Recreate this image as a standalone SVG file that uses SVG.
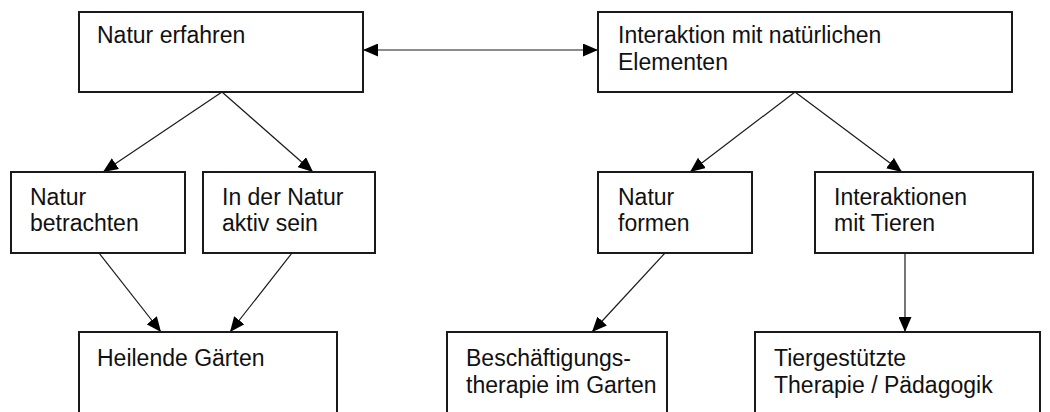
<svg xmlns="http://www.w3.org/2000/svg" width="1050" height="412" viewBox="0 0 1050 412">
  <style>
    .box { fill: #ffffff; stroke: #1a1a1a; stroke-width: 2; }
    .lbl { font-family: "Liberation Sans", Arial, sans-serif; font-size: 23px; fill: #111111; }
    .edge { fill: none; stroke: #1a1a1a; stroke-width: 1.2; }
  </style>
  <defs>
    <marker id="head" viewBox="0 0 15 13" refX="15" refY="6.5" markerWidth="15" markerHeight="13" markerUnits="userSpaceOnUse" orient="auto-start-reverse">
      <path d="M0,0 L15,6.5 L0,13 Z" fill="#000000"/>
    </marker>
  </defs>
  <rect width="1050" height="412" fill="#ffffff"/>

  <g id="connectors">
    <line class="edge" x1="363" y1="50" x2="598" y2="50" marker-start="url(#head)" marker-end="url(#head)"/>
    <line class="edge" x1="222" y1="92" x2="103" y2="172" marker-end="url(#head)"/>
    <line class="edge" x1="222" y1="92" x2="313" y2="172" marker-end="url(#head)"/>
    <line class="edge" x1="795" y1="92" x2="690" y2="172" marker-end="url(#head)"/>
    <line class="edge" x1="795" y1="92" x2="902" y2="172" marker-end="url(#head)"/>
    <line class="edge" x1="99" y1="253" x2="161" y2="332" marker-end="url(#head)"/>
    <line class="edge" x1="292" y1="253" x2="230" y2="332" marker-end="url(#head)"/>
    <line class="edge" x1="665" y1="253" x2="592" y2="332" marker-end="url(#head)"/>
    <line class="edge" x1="905" y1="253" x2="905" y2="332" marker-end="url(#head)"/>
  </g>

  <g id="natur-erfahren">
    <rect class="box" x="79" y="12" width="284" height="80"/>
    <text class="lbl" x="97" y="43">Natur erfahren</text>
  </g>
  <g id="interaktion">
    <rect class="box" x="598" y="12" width="414" height="80"/>
    <text class="lbl" x="618" y="43">Interaktion mit natürlichen</text>
    <text class="lbl" x="618" y="70">Elementen</text>
  </g>
  <g id="natur-betrachten">
    <rect class="box" x="11" y="172" width="174" height="81"/>
    <text class="lbl" x="30" y="205">Natur</text>
    <text class="lbl" x="30" y="231">betrachten</text>
  </g>
  <g id="natur-aktiv">
    <rect class="box" x="203" y="172" width="172" height="81"/>
    <text class="lbl" x="222" y="205">In der Natur</text>
    <text class="lbl" x="222" y="231">aktiv sein</text>
  </g>
  <g id="natur-formen">
    <rect class="box" x="598" y="172" width="154" height="81"/>
    <text class="lbl" x="618" y="205">Natur</text>
    <text class="lbl" x="618" y="231">formen</text>
  </g>
  <g id="interaktionen-tiere">
    <rect class="box" x="815" y="172" width="218" height="81"/>
    <text class="lbl" x="834" y="205">Interaktionen</text>
    <text class="lbl" x="834" y="231">mit Tieren</text>
  </g>
  <g id="heilende-gaerten">
    <rect class="box" x="79" y="332" width="258" height="100"/>
    <text class="lbl" x="97" y="366">Heilende Gärten</text>
  </g>
  <g id="beschaeftigungstherapie">
    <rect class="box" x="447" y="332" width="220" height="100"/>
    <text class="lbl" x="466" y="366">Beschäftigungs-</text>
    <text class="lbl" x="466" y="393">therapie im Garten</text>
  </g>
  <g id="tiergestuetzt">
    <rect class="box" x="755" y="332" width="285" height="100"/>
    <text class="lbl" x="774" y="366">Tiergestützte</text>
    <text class="lbl" x="774" y="393">Therapie / Pädagogik</text>
  </g>
</svg>
